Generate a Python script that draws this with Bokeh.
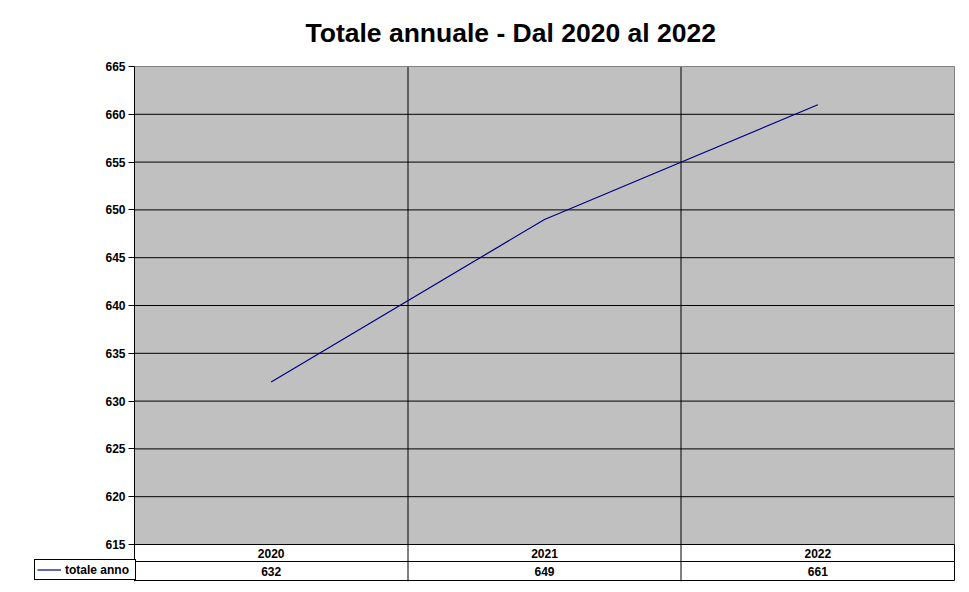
import math
from bokeh.plotting import figure
from bokeh.models import FixedTicker, Legend, LegendItem, Range1d
from bokeh.core.properties import value
from bokeh.embed import file_html
from bokeh.resources import INLINE

# ---- data ----
years = ["2020", "2021", "2022"]
totals = [632, 649, 661]
series_name = "totale anno"
y_ticks = [615, 620, 625, 630, 635, 640, 645, 650, 655, 660, 665]
title_text = "Totale annuale - Dal 2020 al 2022"

# ---- layout constants (pixels) ----
plot_px_h = 478.0          # height of the grey plot area
col_px = 820.0 / 3         # width of one category column
ppu = plot_px_h / (y_ticks[-1] - y_ticks[0])
table_px = 37.0            # table height below the plot area
top_pad_px = 8.0           # room above the plot area for the top tick label
label_cell_px = 100.0      # width of the legend-key cell of the data table

n = len(years)
y_lo = y_ticks[0]
y_hi = y_ticks[-1]
y_end = y_hi + top_pad_px / ppu
y_start = y_lo - table_px / ppu
x_start = -label_cell_px / col_px
x_end = n + 1.0 / col_px

def below(px):
    return y_lo - px / ppu

def crisp(i):
    # category boundary snapped to a pixel centre for a sharp 1px line
    return (math.floor(i * col_px) + 0.5) / col_px

FONT = "Liberation Sans"

p = figure(width=969, height=592, output_backend="svg", toolbar_location=None,
           x_range=Range1d(x_start, x_end), y_range=Range1d(y_start, y_end),
           x_axis_location=None, min_border_left=34, min_border_right=14,
           min_border_top=58, min_border_bottom=11)
p.outline_line_color = None
p.background_fill_color = "white"
p.border_fill_color = "white"

# grey plot area
p.quad(left=[0], right=[n], bottom=[y_lo], top=[y_hi], fill_color="#C0C0C0",
       line_color=None, level="image")

# y axis, drawn at the left edge of the plot area (x = 0)
ax = p.yaxis[0]
ax.fixed_location = 0
ax.bounds = (y_start, y_hi)
ax.ticker = FixedTicker(ticks=y_ticks)
ax.axis_line_color = "black"
ax.major_tick_line_color = "black"
ax.major_tick_out = 6
ax.major_tick_in = 0
ax.minor_tick_line_color = None
ax.major_label_standoff = 3
ax.major_label_text_font = FONT
ax.major_label_text_font_style = "bold"
ax.major_label_text_font_size = "12px"
ax.major_label_text_color = "black"

# grids
p.ygrid.visible = False
p.xgrid.ticker = FixedTicker(ticks=list(range(1, n)))
p.xgrid.grid_line_color = None
h_lines = y_ticks[:-1]
p.segment(x0=[0] * len(h_lines), y0=h_lines, x1=[n] * len(h_lines), y1=h_lines,
          line_color="black", line_width=1)
inner = [crisp(i) for i in range(1, n)]
p.segment(x0=inner, y0=[y_start] * len(inner), x1=inner, y1=[y_hi] * len(inner),
          line_color="black", line_width=1)

# plot-area border (grey top / right)
p.segment(x0=[0, n], y0=[y_hi, y_lo], x1=[n, n], y1=[y_hi, y_hi],
          line_color="#808080", line_width=1)

# data table lines
row1 = below(17)
row2 = below(36)
p.segment(x0=[0, 0, n], y0=[row1, row2, y_lo], x1=[n, n, n], y1=[row1, row2, row2],
          line_color="black", line_width=1)

# data line
xs = [i + 0.5 for i in range(n)]
r = p.line(xs, totals, line_color="#000080", line_width=1.2)

# table texts
p.text(x=xs, y=[below(8.5)] * n, text=years, text_align="center",
       text_baseline="middle", text_font=value(FONT), text_font_style="bold",
       text_font_size=value("12px"), text_color="black")
p.text(x=xs, y=[below(26.5)] * n, text=[str(v) for v in totals], text_align="center",
       text_baseline="middle", text_font=value(FONT), text_font_style="bold",
       text_font_size=value("12px"), text_color="black")

# legend key cell of the data table
leg = Legend(items=[LegendItem(label=series_name, renderers=[r])],
             location=(0, 1), margin=0, padding=2, spacing=0,
             glyph_width=24, glyph_height=15, label_height=15, label_width=68,
             label_standoff=4, label_text_font=FONT, label_text_font_style="bold",
             label_text_font_size="12px", label_text_color="black",
             border_line_color="black", border_line_width=1, border_line_alpha=1,
             background_fill_color="white", background_fill_alpha=1)
p.add_layout(leg, "center")

# title
p.title.text = title_text
p.title.text_font = FONT
p.title.text_font_style = "bold"
p.title.text_font_size = "26.5px"
p.title.text_color = "black"
p.title.align = "left"
p.title.offset = 271
p.title.standoff = 21

open("out.html", "w").write(file_html(p, INLINE))
